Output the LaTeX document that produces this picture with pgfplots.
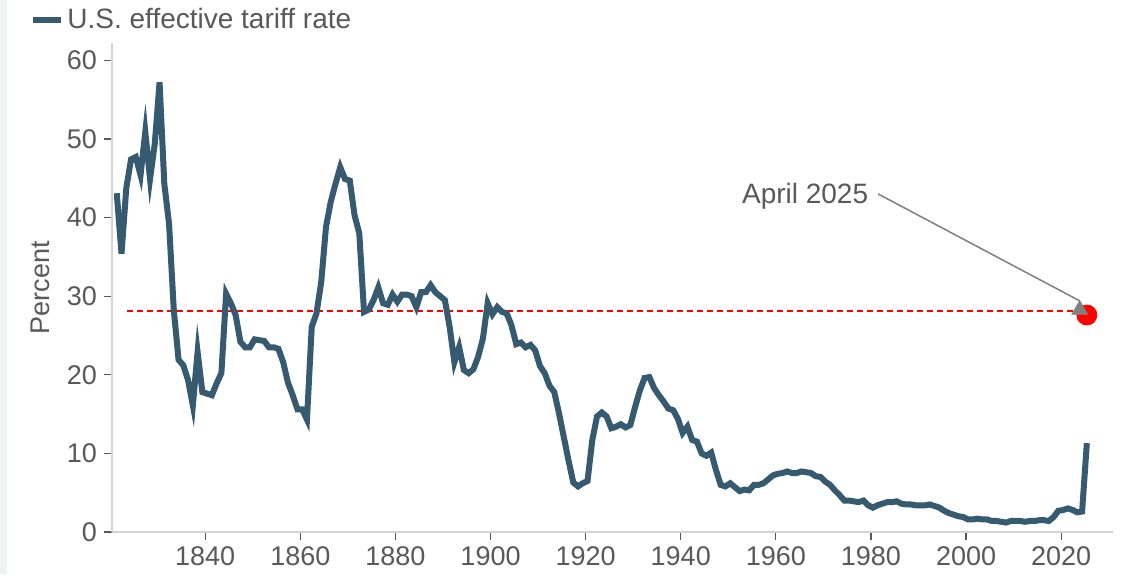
\documentclass[border=0pt]{standalone}
\usepackage{fontspec}
\setmainfont{Liberation Sans}
\usepackage{pgfplots}
\pgfplotsset{compat=1.18}
\usepackage{pgfplotstable}
\usetikzlibrary{arrows.meta}

\definecolor{tariff}{HTML}{365A70}
\definecolor{txtgray}{HTML}{595959}
\definecolor{axgray}{HTML}{D3D3D3}
\definecolor{strip}{HTML}{EEF2F3}
\definecolor{annot}{HTML}{808080}

% U.S. effective tariff rate, percent
\pgfplotstableread{
year rate
1821 43.1
1822 35.4
1823 43.7
1824 47.4
1825 47.7
1826 45.4
1827 50.9
1828 44.9
1829 49.4
1830 57.2
1831 44.3
1832 39.2
1833 28.2
1834 21.9
1835 21.2
1836 19.3
1837 16.1
1838 22.9
1839 17.8
1840 17.6
1841 17.4
1842 18.9
1843 20.2
1844 30.3
1845 29.1
1846 27.6
1847 24.2
1848 23.5
1849 23.5
1850 24.5
1851 24.4
1852 24.3
1853 23.5
1854 23.5
1855 23.3
1856 21.6
1857 19.0
1858 17.4
1859 15.6
1860 15.6
1861 14.3
1862 26.1
1863 27.8
1864 31.8
1865 38.8
1866 42.0
1867 44.3
1868 46.4
1869 44.9
1870 44.7
1871 40.3
1872 38.0
1873 28.0
1874 28.3
1875 29.5
1876 31.1
1877 29.1
1878 28.9
1879 30.2
1880 29.3
1881 30.2
1882 30.2
1883 30.0
1884 28.6
1885 30.5
1886 30.5
1887 31.4
1888 30.5
1889 30.0
1890 29.5
1891 26.1
1892 21.6
1893 23.5
1894 20.6
1895 20.2
1896 20.7
1897 22.3
1898 24.6
1899 29.1
1900 27.7
1901 28.6
1902 28.0
1903 27.8
1904 26.3
1905 23.9
1906 24.1
1907 23.5
1908 23.8
1909 23.1
1910 21.1
1911 20.2
1912 18.6
1913 17.8
1914 15.1
1915 12.1
1916 9.1
1917 6.3
1918 5.8
1919 6.2
1920 6.5
1921 11.7
1922 14.7
1923 15.2
1924 14.7
1925 13.2
1926 13.4
1927 13.7
1928 13.3
1929 13.6
1930 15.9
1931 18.0
1932 19.6
1933 19.7
1934 18.3
1935 17.4
1936 16.6
1937 15.7
1938 15.5
1939 14.4
1940 12.6
1941 13.4
1942 11.7
1943 11.5
1944 10.0
1945 9.7
1946 10.1
1947 7.9
1948 6.0
1949 5.8
1950 6.2
1951 5.7
1952 5.2
1953 5.4
1954 5.3
1955 6.0
1956 6.0
1957 6.2
1958 6.7
1959 7.2
1960 7.4
1961 7.5
1962 7.7
1963 7.5
1964 7.5
1965 7.7
1966 7.6
1967 7.5
1968 7.1
1969 7.0
1970 6.4
1971 6.0
1972 5.3
1973 4.7
1974 4.0
1975 4.0
1976 3.9
1977 3.8
1978 4.0
1979 3.4
1980 3.1
1981 3.4
1982 3.6
1983 3.8
1984 3.8
1985 3.9
1986 3.6
1987 3.5
1988 3.5
1989 3.4
1990 3.4
1991 3.4
1992 3.5
1993 3.3
1994 3.1
1995 2.7
1996 2.4
1997 2.2
1998 2.0
1999 1.9
2000 1.6
2001 1.6
2002 1.7
2003 1.6
2004 1.6
2005 1.4
2006 1.4
2007 1.3
2008 1.2
2009 1.4
2010 1.4
2011 1.4
2012 1.3
2013 1.4
2014 1.4
2015 1.5
2016 1.5
2017 1.4
2018 1.9
2019 2.7
2020 2.8
2021 3.0
2022 2.8
2023 2.5
2024 2.6
2025 11.3
}\tariffdata

\begin{document}
\begin{tikzpicture}
\path[use as bounding box, fill=white] (-56pt,-21pt) rectangle (508.5pt,266pt);
\fill[strip] (-56pt,-21pt) rectangle (-52.5pt,266pt);
\begin{axis}[
    scale only axis,
    width=500.5pt, height=244.5pt,
    xmin=1820.4, xmax=2030.9,
    ymin=0, ymax=62.2,
    axis x line=bottom, axis y line=left,
    axis line style={-, axgray, line width=0.75pt},
    xtick={1840,1860,...,2020},
    ytick={0,10,...,60},
    tick align=outside,
    major tick length=4pt,
    tick style={txtgray, line width=0.6pt},
    ticklabel style={font=\fontsize{13.5}{16}\selectfont, text=txtgray},
    /pgf/number format/assume math mode=true,
    /pgf/number format/1000 sep={},
    ylabel={Percent},
    ylabel style={at={(axis description cs:-0.0719,0.5)}, anchor=center,
        font=\fontsize{13.5}{16}\selectfont, text=txtgray},
    legend style={at={(-0.0819,1.047)}, anchor=west, draw=none, fill=none,
        inner sep=0pt, font=\fontsize{14}{16}\selectfont, text=txtgray,
        nodes={inner sep=1.5pt}},
    legend cell align=left,
    legend image code/.code={\draw[#1] (0pt,0pt) -- (14pt,0pt);},
    clip=false,
]
\addplot[red, line width=1pt, dash pattern=on 3pt off 2pt, forget plot]
    coordinates {(1823.6,28.1) (2024.5,28.1)};
% annual values drawn mid-year, as in the source chart
\addplot[tariff, line width=3pt] table[x expr=\thisrow{year}+0.4, y=rate] {\tariffdata};
\addlegendentry{U.S. effective tariff rate}
\addplot[only marks, mark=*, mark size=5pt, red, forget plot]
    coordinates {(2025.4,27.6)};
\draw[annot, line width=0.75pt] (axis cs:1981.5,43.0) -- (axis cs:2023.9,29.4);
\addplot[only marks, mark=triangle*, mark size=4.5pt, annot, forget plot]
    coordinates {(2023.9,28.27)};
\node[anchor=base east, inner sep=0pt, text=txtgray,
    font=\fontsize{14}{16}\selectfont] at (axis cs:1979.5,41.8) {April 2025};
\end{axis}
\end{tikzpicture}
\end{document}
